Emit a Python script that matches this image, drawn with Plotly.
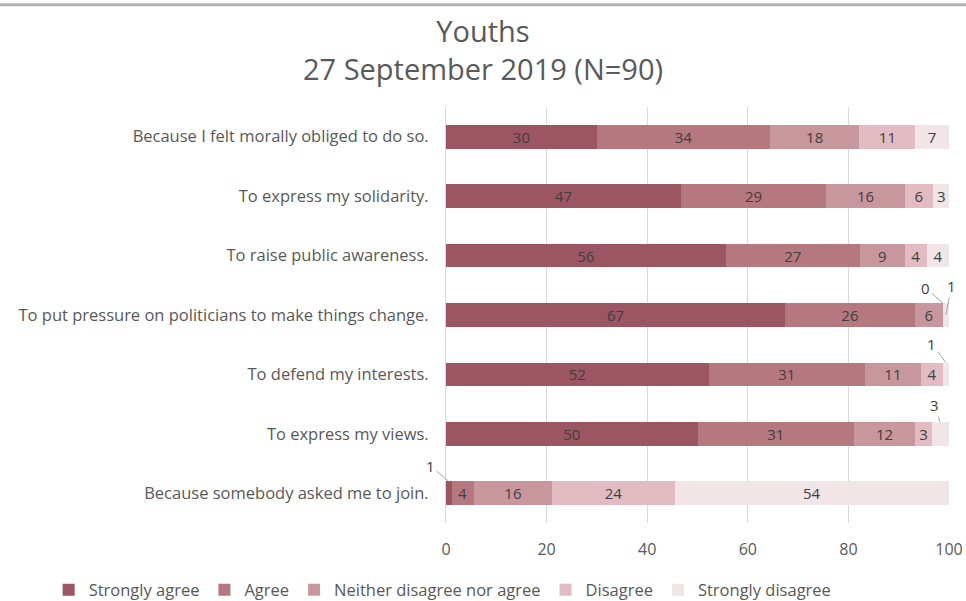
import plotly.graph_objects as go

# Reasons (top to bottom as shown)
reasons = [
    "Because I felt morally obliged to do so.",
    "To express my solidarity.",
    "To raise public awareness.",
    "To put pressure on politicians to make things change.",
    "To defend my interests.",
    "To express my views.",
    "Because somebody asked me to join.",
]

# Shares in % (bar lengths)
strongly_agree = [30.0, 46.7, 55.6, 67.4, 52.2, 50.0, 1.1]
agree = [34.4, 28.9, 26.7, 25.8, 31.1, 31.1, 4.4]
neither = [17.8, 15.6, 8.9, 5.6, 11.1, 12.2, 15.6]
disagree = [11.1, 5.6, 4.4, 0.0, 4.4, 3.3, 24.4]
strongly_disagree = [6.7, 3.3, 4.4, 1.1, 1.1, 3.3, 54.4]

series_names = ["Strongly agree", "Agree", "Neither disagree nor agree",
                "Disagree", "Strongly disagree"]
series_vals = [strongly_agree, agree, neither, disagree, strongly_disagree]
colors = ["#9c5562", "#b6787f", "#c8979d", "#e2bcc2", "#f1e5e7"]

# labels placed outside the bar with a leader line: (row, series, dx, dy, tip)
callouts = [
    (3, 3, -17, -15, "top"),
    (3, 4, 6, -29, "mid"),
    (4, 4, -14, -19, "top"),
    (5, 4, -6, -17, "top"),
    (6, 0, -18, -15, "top"),
]

FONT = "Open Sans"
GREY = "#595959"

fig = go.Figure()
outside = {(r, s) for r, s, *_ in callouts}
for s, (name, vals, col) in enumerate(zip(series_names, series_vals, colors)):
    texts = ["" if (r, s) in outside else f"{v:.0f}" for r, v in enumerate(vals)]
    fig.add_trace(go.Bar(
        y=reasons, x=vals, name=name, orientation="h",
        marker=dict(color=col, line=dict(width=0)),
        text=texts, textposition="inside", insidetextanchor="middle",
        constraintext="none",
        textfont=dict(family=FONT, size=15, color="#404040"),
        textangle=0, width=0.4, hoverinfo="x+name",
    ))

# leader-line labels for the tiny segments
for r, s, dx, dy, tip in callouts:
    start = sum(series_vals[k][r] for k in range(s))
    xv = start + series_vals[s][r] / 2
    yv = r - 0.2 if tip == "top" else r
    fig.add_annotation(
        x=xv, y=yv, xref="x", yref="y",
        text=f"{series_vals[s][r]:.0f}", showarrow=True, arrowhead=0,
        arrowwidth=1, arrowcolor="#a6a6a6", ax=dx, ay=dy, standoff=0,
        font=dict(family=FONT, size=15, color="#404040"),
    )

# grey rule at the very top of the image
fig.add_shape(type="line", xref="paper", yref="paper",
              x0=-0.887, x1=1.034, y0=1.246, y1=1.246,
              line=dict(color="#b3b3b3", width=3))

fig.update_layout(
    width=966, height=601,
    barmode="stack", bargap=0.6,
    paper_bgcolor="white", plot_bgcolor="white",
    margin=dict(l=446, r=17, t=107, b=78, autoexpand=False),
    font=dict(family=FONT, color=GREY),
    title=dict(text="Youths<br>27 September 2019 (N=90)", x=0.5, xanchor="center",
               xref="container", yref="container", y=0.93, yanchor="middle",
               font=dict(family=FONT, size=29, color=GREY)),
    xaxis=dict(range=[0, 100], dtick=20, showgrid=True, gridcolor="#d9d9d9",
               gridwidth=1, zeroline=False, showline=False,
               ticklabelstandoff=15,
               tickfont=dict(family=FONT, size=16, color=GREY), ticks=""),
    yaxis=dict(autorange="reversed", showgrid=False, showline=True,
               linecolor="#d9d9d9", ticks="", ticklabelstandoff=13,
               tickfont=dict(family=FONT, size=16.5, color=GREY)),
    legend=dict(orientation="h", x=-0.79, xanchor="left",
                y=-0.161, yanchor="middle",
                font=dict(family=FONT, size=16.5, color=GREY),
                traceorder="normal"),
    showlegend=True,
)

fig.write_html("out.html", config={"displayModeBar": False},
               post_script="document.body.style.margin='0';")
